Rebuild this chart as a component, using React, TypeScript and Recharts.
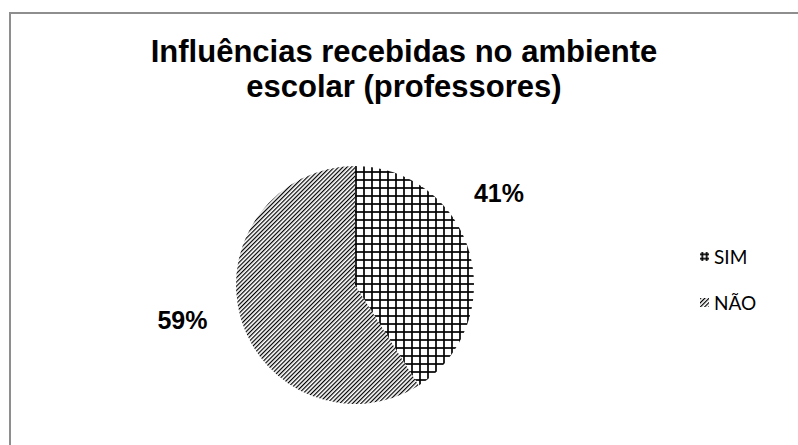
import { PieChart, Pie, Cell, Legend } from 'recharts';

const CATEGORIES = ['SIM', 'NÃO'];
const VALUES = [41, 59];
const PERCENT_LABELS = ['41%', '59%'];
const TITLE_LINES = ['Influências recebidas no ambiente', 'escolar (professores)'];

// label offsets in units of the outer radius (Excel "best fit" placement)
const LABEL_OFFSETS = [
  { dx: 1.21, dy: -0.77 },
  { dx: -1.45, dy: 0.29 },
];

const FILLS = ['url(#gridPattern)', 'url(#diagPattern)'];
const LEGEND_FILLS = ['url(#gridPatternLg)', 'url(#diagPatternLg)'];

const pieData = CATEGORIES.map((name, i) => ({ name, value: VALUES[i], label: PERCENT_LABELS[i] }));

const renderLabel = (props: any) => {
  const { cx, cy, outerRadius, index } = props;
  const off = LABEL_OFFSETS[index];
  return (
    <text
      x={cx + off.dx * outerRadius}
      y={cy + off.dy * outerRadius}
      textAnchor="middle"
      dominantBaseline="central"
      fontFamily="'Liberation Sans', Arial, sans-serif"
      fontWeight="bold"
      fontSize={25}
      fill="#000"
    >
      {pieData[index].label}
    </text>
  );
};

function PatternDefs({ suffix, pitch }: { suffix: string; pitch: number }) {
  return (
    <defs>
      <pattern id={`gridPattern${suffix}`} width={pitch} height={pitch} patternUnits="userSpaceOnUse">
        <rect width={pitch} height={pitch} fill="#fff" />
        <line x1={pitch / 2} y1={0} x2={pitch / 2} y2={pitch} stroke="#000" strokeWidth={1.7} />
        <line x1={0} y1={pitch / 2} x2={pitch} y2={pitch / 2} stroke="#000" strokeWidth={1.7} />
      </pattern>
      <pattern id={`diagPattern${suffix}`} width={3} height={3} patternUnits="userSpaceOnUse" patternTransform="rotate(45)">
        <rect width={3} height={3} fill="#fff" />
        <line x1={0.6} y1={0} x2={0.6} y2={3} stroke="#000" strokeWidth={1.2} />
      </pattern>
    </defs>
  );
}

const renderLegend = () => (
  <div style={{ fontFamily: 'Lato, sans-serif', fontSize: 19, color: '#000' }}>
    {CATEGORIES.map((name, i) => (
      <div key={name} style={{ height: 46, display: 'flex', alignItems: 'center' }}>
        <svg width={9} height={9} style={{ marginRight: 5 }}>
          <PatternDefs suffix="Lg" pitch={4.5} />
          <rect width={9} height={9} fill={LEGEND_FILLS[i]} />
        </svg>
        <span>{name}</span>
      </div>
    ))}
  </div>
);

export default function App() {
  return (
    <div style={{ position: 'absolute', left: 0, top: 0, width: 798, height: 445, background: '#fff', overflow: 'hidden' }}>
      <div
        style={{
          position: 'absolute', left: 9, top: 12, width: 820, height: 460,
          borderTop: '2px solid #8e8e8e', borderLeft: '2px solid #8e8e8e',
        }}
      />
      <div
        style={{
          position: 'absolute', left: 0, top: 34, width: 808, textAlign: 'center',
          fontFamily: "'Liberation Sans', Arial, sans-serif", fontWeight: 'bold', fontSize: 31, lineHeight: '35px', color: '#000',
        }}
      >
        {TITLE_LINES.map((t) => (
          <div key={t}>{t}</div>
        ))}
      </div>
      <div style={{ position: 'absolute', left: 0, top: 0 }}>
        <PieChart width={798} height={445}>
          <PatternDefs suffix="" pitch={8} />
          <Pie
            data={pieData}
            dataKey="value"
            nameKey="name"
            cx={350}
            cy={280}
            outerRadius={119}
            startAngle={90}
            endAngle={-270}
            stroke="none"
            label={renderLabel}
            labelLine={false}
            isAnimationActive={false}
          >
            {pieData.map((entry, i) => (
              <Cell key={entry.name} fill={FILLS[i]} />
            ))}
          </Pie>
          <Legend
            layout="vertical"
            content={renderLegend}
            wrapperStyle={{ position: 'absolute', left: 700, top: 233, width: 90 }}
          />
        </PieChart>
      </div>
    </div>
  );
}
